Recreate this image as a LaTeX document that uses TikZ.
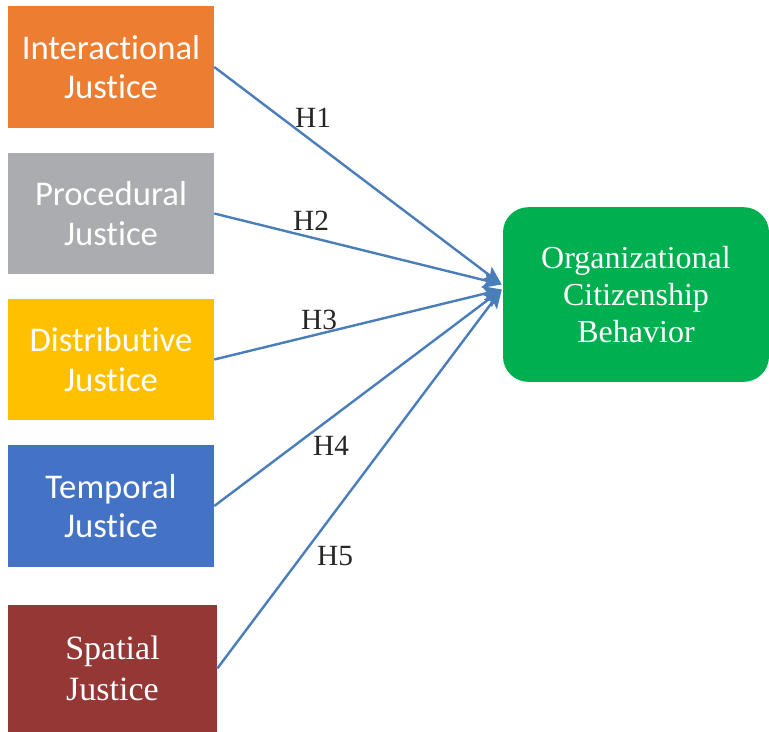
\documentclass[tikz,border=0pt]{standalone}
\usepackage{fontspec}
\setmainfont{Liberation Serif}
\newfontfamily\calfont[Ligatures=NoCommon]{Carlito}
\usetikzlibrary{arrows.meta,calc}
\definecolor{jorange}{HTML}{ED7D31}
\definecolor{jgray}{HTML}{ABACAF}
\definecolor{jyellow}{HTML}{FFC000}
\definecolor{jblue}{HTML}{4472C4}
\definecolor{jred}{HTML}{953735}
\definecolor{ocbgreen}{HTML}{00B050}
\definecolor{linkblue}{HTML}{4A7EBB}
\begin{document}
\begin{tikzpicture}[x=0.75pt,y=-0.75pt,
  justicebox/.style={rectangle,inner sep=0pt,minimum width=154.5pt,minimum height=91.5pt,
    text=white,align=center,font=\calfont\fontsize{26}{29.5}\selectfont},
  ocbbox/.style={rectangle,rounded corners=19pt,fill=ocbgreen,inner sep=0pt,
    minimum width=199.5pt,minimum height=131pt,text=white,align=center,
    font=\fontsize{24}{27.75}\selectfont},
  link/.style={draw=linkblue,line width=1.8pt,
    -{Stealth[length=14pt,width=12pt,inset=3pt]}},
  hyp/.style={font=\fontsize{22}{25}\selectfont,text=black!85,inner sep=0pt}]
\useasboundingbox (0,0) rectangle (769,732);
\fill[white] (0,0) rectangle (769,732);

\node[justicebox,fill=jorange] (inter) at (111,67) {Interactional\\Justice};
\node[justicebox,fill=jgray,minimum height=90.75pt] (proc) at (111,213.5) {Procedural\\Justice};
\node[justicebox,fill=jyellow,minimum height=90.75pt] (dist) at (111,359.5) {Distributive\\Justice};
\node[justicebox,fill=jblue] (temp) at (111,506) {Temporal\\Justice};
\node[justicebox,fill=jred,minimum width=156.75pt,minimum height=95.25pt,
  font=\fontsize{25.5}{30.75}\selectfont] (spat) at (112.5,668.5) {\raisebox{-2pt}{\parbox{150pt}{\centering Spatial\\Justice}}};

\node[ocbbox] (ocb) at (636,294.5) {Organizational\\Citizenship\\Behavior};

\coordinate (tipA) at ($(ocb.west)+(-1,-10)$);
\coordinate (tipB) at ($(ocb.west)+(-1,-5)$);

\draw[link] (inter.east) -- (tipA);
\draw[link] (proc.east) -- (tipA);
\draw[link] (dist.east) -- (tipB);
\draw[link] (temp.east) -- (tipB);
\draw[link] (spat.east) -- (tipB);

\node[hyp] (h1) at (313,118) {H1};
\node[hyp] (h2) at (311,221) {H2};
\node[hyp] (h3) at (319,320) {H3};
\node[hyp] (h4) at (331,446) {H4};
\node[hyp] (h5) at (335,556) {H5};
\end{tikzpicture}
\end{document}
